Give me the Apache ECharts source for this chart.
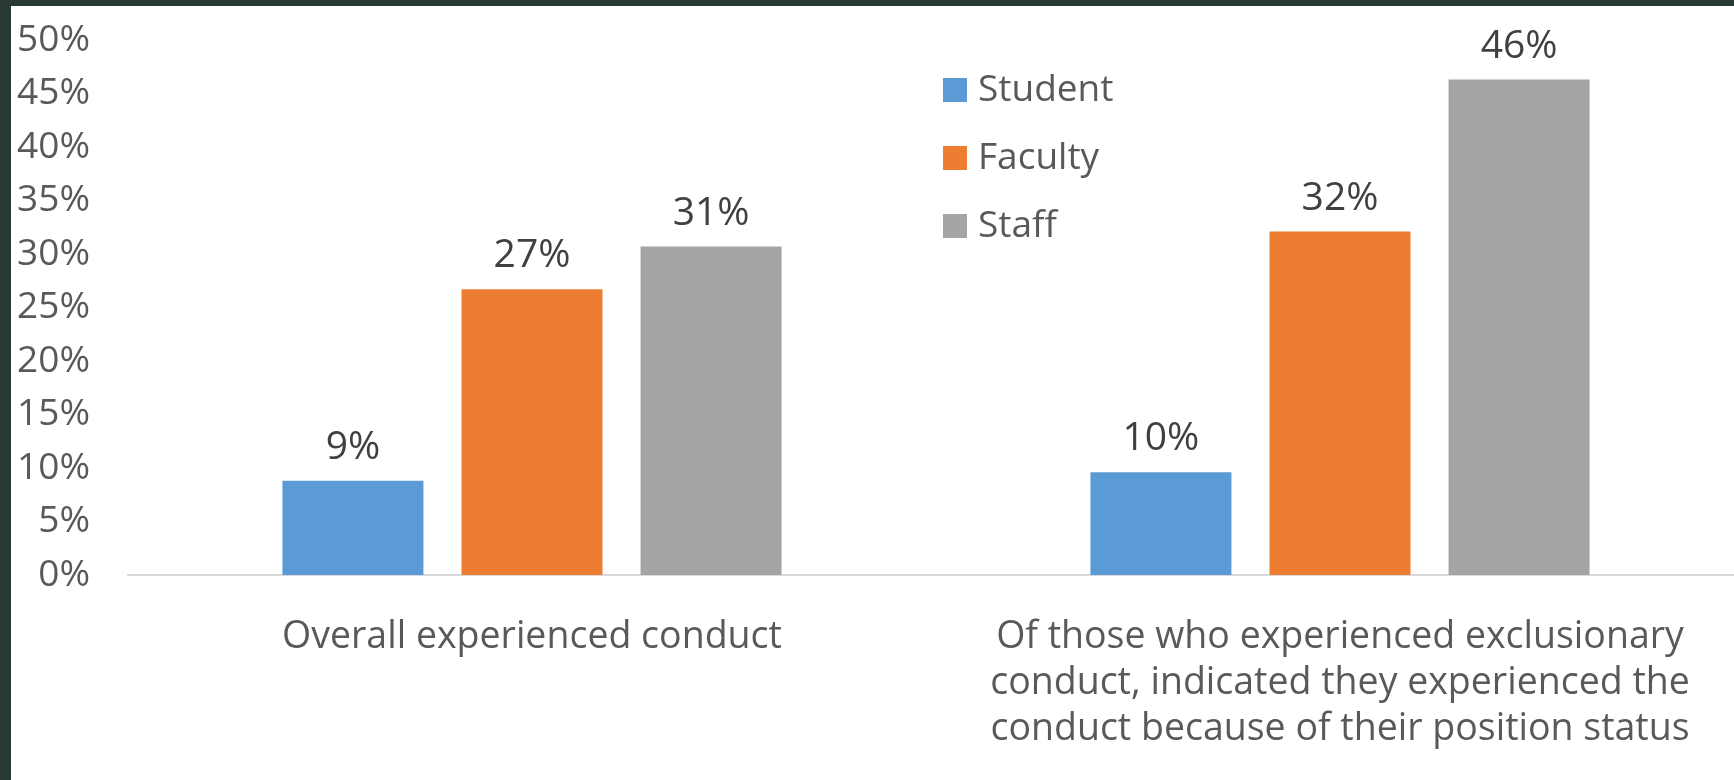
<!DOCTYPE html>
<html>
<head>
<meta charset="utf-8">
<script src="https://cdn.jsdelivr.net/npm/echarts@6/dist/echarts.min.js"></script>
<style>
  html, body { margin: 0; padding: 0; background: #fff; overflow: hidden; }
  /* plot area runs a little past the right edge of the window, like the original */
  #chart { width: 1744px; height: 780px; }
</style>
</head>
<body>
<div id="chart"></div>
<script>
// categories and values (percent)
var categories = [
  'Overall experienced conduct',
  'Of those who experienced exclusionary\nconduct, indicated they experienced the\nconduct because of their position status'
];
var seriesNames = ['Student', 'Faculty', 'Staff'];
var studentData = [8.8, 9.6];
var facultyData = [26.7, 32.1];
var staffData = [30.7, 46.3];
var yTicks = [0, 5, 10, 15, 20, 25, 30, 35, 40, 45, 50];

var colors = ['#5b9bd5', '#ed7d31', '#a5a5a5'];
var FONT = '"Open Sans", "Noto Sans", sans-serif';

var myChart = echarts.init(document.getElementById('chart'));

function makeSeries(name, data, color) {
  return {
    name: name,
    type: 'bar',
    data: data,
    barWidth: 141,
    barGap: '27%',
    itemStyle: { color: color },
    label: {
      show: true,
      position: 'top',
      distance: 13,
      fontFamily: FONT,
      fontSize: 39,
      lineHeight: 40,
      color: '#404040',
      formatter: function (p) { return Math.round(p.value) + '%'; }
    }
  };
}

var option = {
  animation: false,
  backgroundColor: '#ffffff',
  textStyle: { fontFamily: FONT },
  graphic: [
    // dark frame at top and left edges
    { type: 'rect', left: 0, top: 0, shape: { width: 1744, height: 6 }, style: { fill: '#293a32' } },
    { type: 'rect', left: 0, top: 0, shape: { width: 11, height: 780 }, style: { fill: '#293a32' } }
  ],
  grid: {
    left: 128,
    right: 0,
    top: 40,
    bottom: 205,
    containLabel: false
  },
  legend: {
    orient: 'vertical',
    left: 938,
    top: 63,
    itemWidth: 24,
    itemHeight: 24,
    itemGap: 24,
    icon: 'rect',
    data: seriesNames,
    textStyle: {
      fontFamily: FONT,
      fontSize: 37,
      lineHeight: 44,
      color: '#595959',
      padding: [0, 0, 0, 6]
    }
  },
  xAxis: {
    type: 'category',
    data: categories,
    axisTick: { show: false },
    axisLine: { lineStyle: { color: '#d9d9d9', width: 2 } },
    axisLabel: {
      interval: 0,
      margin: 39,
      fontFamily: FONT,
      fontSize: 37.5,
      lineHeight: 46,
      color: '#595959',
      align: 'center'
    }
  },
  yAxis: {
    type: 'value',
    min: yTicks[0],
    max: yTicks[yTicks.length - 1],
    interval: yTicks[1] - yTicks[0],
    axisLine: { show: false },
    axisTick: { show: false },
    splitLine: { show: false },
    axisLabel: {
      margin: 38,
      fontFamily: FONT,
      fontSize: 37,
      color: '#595959',
      formatter: '{value}%'
    }
  },
  series: [
    makeSeries(seriesNames[0], studentData, colors[0]),
    makeSeries(seriesNames[1], facultyData, colors[1]),
    makeSeries(seriesNames[2], staffData, colors[2])
  ]
};

myChart.setOption(option);
</script>
</body>
</html>
